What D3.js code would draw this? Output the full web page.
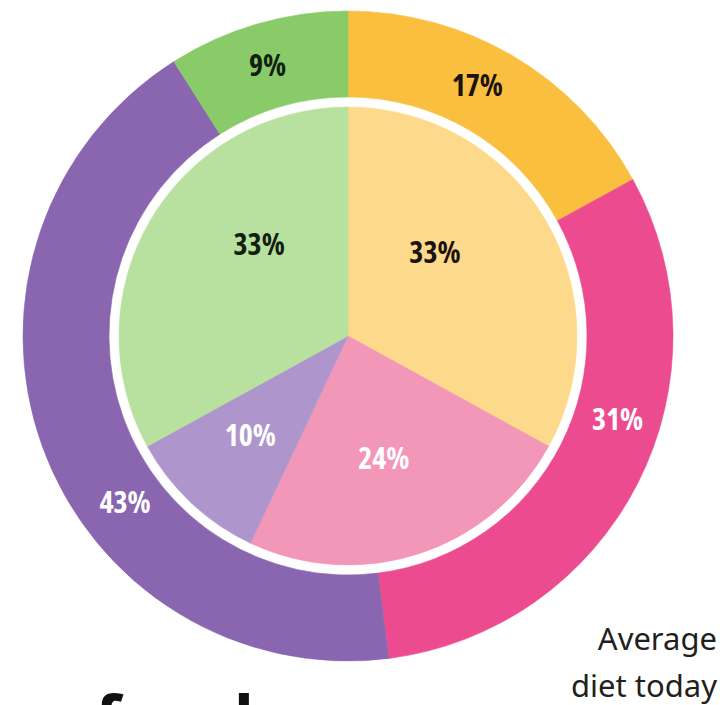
<!DOCTYPE html>
<html>
<head>
<meta charset="utf-8">
<script src="https://cdn.jsdelivr.net/npm/d3@7"></script>
<style>
  html, body { margin: 0; padding: 0; background: #ffffff; }
  svg { display: block; }
  .pct { font-family: "Liberation Sans Narrow", "Open Sans", sans-serif; font-weight: 700; font-stretch: condensed; text-anchor: middle; }
  .note { font-family: "Noto Sans", "Open Sans", sans-serif; fill: #231f20; text-anchor: end; }
  .title { font-family: "Noto Sans", "Open Sans", sans-serif; font-weight: 700; fill: #111111; }
</style>
</head>
<body>
<script>
// Food groups, listed clockwise from 12 o'clock
const groups = ["Starchy foods", "Protein & dairy", "Fats & sugars", "Fruit & vegetables"];

// Outer ring: average diet today (%)
const todayValues = [17, 31, 43, 9];

// Inner pie: recommended balance (%)
const idealValues = [33, 24, 10, 33];

// Caption text
const captionLines = ["Average", "diet today"];
const titleText = "food";

const todayColors = ["#fbbf3f", "#ec4c8f", "#8a66b0", "#89cb68"];
const idealColors = ["#fdd98b", "#f397b9", "#ae96cc", "#b8e09f"];
const todayLabelColors = ["#1b1310", "#ffffff", "#ffffff", "#122010"];
const idealLabelColors = ["#1b1310", "#ffffff", "#ffffff", "#122010"];

// where each label sits along its slice (0 = start, 1 = end) and how far out
const todayLabelAlong = [0.446, 0.411, 0.391, 0.49];
const idealLabelAlong = [0.387, 0.519, 0.54, 0.63];
const todayLabelRadius = [282, 282, 278, 283];
const idealLabelRadius = [121, 127, 139, 128];

const W = 725, H = 705;
const cx = 348, cy = 336;
const rOuter = 325, rOuterInner = 239, rPie = 229;

const svg = d3.select("body").append("svg")
  .attr("width", W).attr("height", H)
  .attr("viewBox", `0 0 ${W} ${H}`);

const pie = d3.pie().sort(null).value(d => d.value).startAngle(0).endAngle(2 * Math.PI);

const todayArcs = pie(groups.map((g, i) => ({ group: g, value: todayValues[i], i })));
const idealArcs = pie(groups.map((g, i) => ({ group: g, value: idealValues[i], i })));

const ringArc = d3.arc().innerRadius(rOuterInner).outerRadius(rOuter);
const pieArc = d3.arc().innerRadius(0).outerRadius(rPie);

const g = svg.append("g").attr("transform", `translate(${cx},${cy})`);

g.append("g").selectAll("path")
  .data(todayArcs).join("path")
  .attr("d", ringArc)
  .attr("fill", d => todayColors[d.data.i])
  .attr("stroke", d => todayColors[d.data.i])
  .attr("stroke-width", 0.6);

g.append("g").selectAll("path")
  .data(idealArcs).join("path")
  .attr("d", pieArc)
  .attr("fill", d => idealColors[d.data.i])
  .attr("stroke", d => idealColors[d.data.i])
  .attr("stroke-width", 0.6);

function labelPoint(d, along, radius) {
  const a = d.startAngle + along * (d.endAngle - d.startAngle);
  return [radius * Math.sin(a), -radius * Math.cos(a)];
}

g.append("g").selectAll("text")
  .data(todayArcs).join("text")
  .attr("class", "pct")
  .attr("font-size", 30)
  .attr("transform", d => {
    const p = labelPoint(d, todayLabelAlong[d.data.i], todayLabelRadius[d.data.i]);
    return `translate(${p[0]},${p[1]})`;
  })
  .attr("dy", "0.36em")
  .attr("fill", d => todayLabelColors[d.data.i])
  .text(d => d.data.value + "%");

g.append("g").selectAll("text")
  .data(idealArcs).join("text")
  .attr("class", "pct")
  .attr("font-size", 30)
  .attr("transform", d => {
    const p = labelPoint(d, idealLabelAlong[d.data.i], idealLabelRadius[d.data.i]);
    return `translate(${p[0]},${p[1]})`;
  })
  .attr("dy", "0.36em")
  .attr("fill", d => idealLabelColors[d.data.i])
  .text(d => d.data.value + "%");

// caption, bottom right
svg.append("text")
  .attr("class", "note")
  .attr("font-size", 31)
  .selectAll("tspan")
  .data(captionLines).join("tspan")
  .attr("x", 717)
  .attr("y", (d, i) => 650 + i * 47)
  .text(d => d);

// large heading running off the bottom edge
svg.append("text")
  .attr("class", "title")
  .attr("x", 95)
  .attr("y", 744)
  .attr("font-size", 66)
  .attr("letter-spacing", 3)
  .text(titleText);
</script>
</body>
</html>
